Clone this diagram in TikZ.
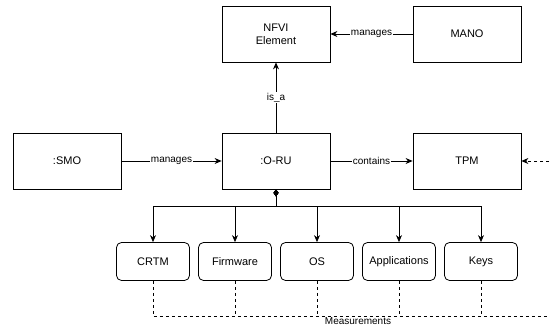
\documentclass[tikz,border=0pt]{standalone}
\usepackage{fontspec}
\setmainfont{Liberation Sans}
\usetikzlibrary{positioning}
\usetikzlibrary{arrows.meta}

\begin{document}
\begin{tikzpicture}[x=1pt,y=1pt,line width=0.8pt]
\tikzstyle{box}=[rectangle,align=center,draw,minimum width=108pt,minimum height=56pt,inner sep=0pt,font=\fontsize{11}{13}\selectfont,fill=white]
\tikzstyle{part}=[rectangle,rounded corners=5pt,align=center,draw,minimum width=73pt,minimum height=38pt,inner sep=0pt,font=\fontsize{11}{13}\selectfont,fill=white]
\tikzstyle{lbl}=[fill=white,inner sep=1pt,font=\fontsize{10}{12}\selectfont]
\tikzstyle{arr}=[-{Stealth[length=7pt,width=6pt]}]
\tikzstyle{meas}=[dash pattern=on 3pt off 3pt,line width=0.7pt]
\useasboundingbox (0,0) rectangle (550,329);
\node[box] at(276, 295) (nfvi) {NFVI\\Element};
\node[box] at(467, 295) (mano) {MANO};
\node[box] at(67, 168) (smo) {:SMO};
\node[box] at(276, 168) (oru) {:O-RU};
\node[box] at(467, 168) (tpm) {TPM};
\node[part] at(153, 67.5) (crtm) {CRTM};
\node[part] at(235, 67.5) (fw) {Firmware};
\node[part] at(317, 67.5) (os) {OS};
\node[part] at(399, 67.5) (apps) {Applications};
\node[part] at(481, 67.5) (keys) {Keys};
\coordinate (bus) at(276, 123);
\coordinate (mright) at(562, 13);
\coordinate (tpmin) at(562, 168);
\coordinate (mmid) at(358, 13);
\draw[arr] (mano) -- node[lbl] {manages} (nfvi);
\draw[arr] (oru) -- node[lbl] {is\_a} (nfvi);
\draw[arr] (smo) -- node[lbl] {manages} (oru);
\draw[arr] (oru) -- node[lbl] {contains} (tpm);
\foreach \p in {crtm,fw,os,apps,keys}
  \draw[{Diamond[length=7pt,width=5pt]}-{Stealth[length=7pt,width=6pt]}] (oru.south) -- (bus) -| (\p.north);
\draw[meas,arr] (crtm.south) |- (mright) -- (tpmin) -- (tpm.east);
\foreach \p in {fw,os,apps,keys}
  \draw[meas] (\p.south) -- (\p.south |- mright);
\node[lbl,fill=none,below=0pt of mmid] (mtext) {Measurements};
\end{tikzpicture}
\end{document}
